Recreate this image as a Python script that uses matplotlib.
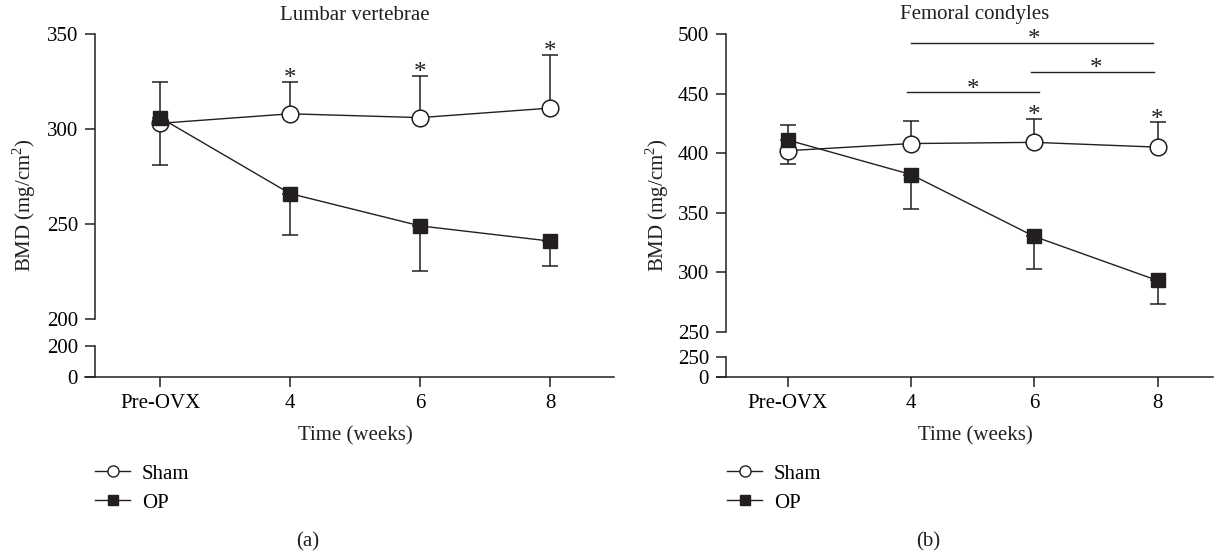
import matplotlib.pyplot as plt
from matplotlib.lines import Line2D
import numpy as np

plt.rcParams['font.family'] = ['Liberation Serif', 'DejaVu Serif']
plt.rcParams['font.size'] = 15
plt.rcParams['mathtext.fontset'] = 'custom'
plt.rcParams['mathtext.rm'] = 'Liberation Serif'

INK = '#231f20'
W, H = 1218, 554

# ---- data ----
weeks = ['Pre-OVX', '4', '6', '8']

lumbar_sham = [303, 308, 306, 311]
lumbar_sham_lo = [22, 0, 0, 0]
lumbar_sham_hi = [0, 17, 22, 28]
lumbar_op = [306, 266, 249, 241]
lumbar_op_lo = [0, 22, 24, 13]
lumbar_op_hi = [19, 0, 0, 0]
lumbar_star = [False, True, True, True]

femoral_sham = [402, 408, 409, 405]
femoral_sham_lo = [11, 0, 0, 0]
femoral_sham_hi = [0, 19, 20, 21]
femoral_op = [411, 382, 330, 293]
femoral_op_lo = [0, 29, 27, 20]
femoral_op_hi = [13, 0, 0, 0]
femoral_star = [False, False, True, True]
# OP group comparisons between weeks (index pairs)
femoral_pairs = [(1, 3), (2, 3), (1, 2)]

fig = plt.figure(figsize=(W / 100, H / 100), dpi=100)


def style_axis(ax, xlim):
    ax.set_xlim(*xlim)
    ax.spines['top'].set_visible(False)
    ax.spines['right'].set_visible(False)
    ax.spines['left'].set_position(('data', -0.5))
    for s in ax.spines.values():
        s.set_linewidth(1.1)
        s.set_color(INK)
    ax.tick_params(direction='out', length=7.2, width=1.1, color=INK, pad=5)
    ax.patch.set_visible(False)


def star(ax, x, y):
    ax.annotate('*', xy=(x, y), xytext=(0, -2.5), textcoords='offset points',
                ha='center', va='baseline', color=INK, fontsize=18)


def panel(left, right, top_px, brk_px, top_lim, top_ticks, bot_tick, xlim,
          sham, sham_lo, sham_hi, op, op_lo, op_hi, stars):
    x = np.arange(len(weeks))
    ax = fig.add_axes([left / W, 1 - brk_px[0] / H, (right - left) / W, (brk_px[0] - top_px) / H])
    axb = fig.add_axes([left / W, 1 - 377 / H, (right - left) / W, (377 - brk_px[1]) / H])
    style_axis(ax, xlim)
    style_axis(axb, xlim)
    ax.spines['bottom'].set_visible(False)
    ax.set_xticks([])
    ax.set_ylim(*top_lim)
    ax.set_yticks(top_ticks)
    axb.set_ylim(0, bot_tick)
    axb.set_yticks([0, bot_tick])
    axb.set_xticks(x)
    axb.set_xticklabels(weeks)

    ax.errorbar(x, sham, yerr=[sham_lo, sham_hi], fmt='none', ecolor=INK,
                elinewidth=1.1, capsize=6, capthick=1.1, zorder=2, clip_on=False)
    ax.errorbar(x, op, yerr=[op_lo, op_hi], fmt='none', ecolor=INK,
                elinewidth=1.1, capsize=6, capthick=1.1, zorder=2, clip_on=False)
    ax.plot(x, sham, '-', color=INK, lw=1.0, marker='o', ms=12, mfc='white',
            mec=INK, mew=1.1, zorder=3, clip_on=False)
    ax.plot(x, op, '-', color=INK, lw=1.0, marker='s', ms=10.5, mfc=INK,
            mec=INK, zorder=4, clip_on=False)
    for xi, s, v, e in zip(x, stars, sham, sham_hi):
        if s:
            star(ax, xi, v + e)
    return ax


ax_a = panel(85, 614, 34, (319, 346), (200, 350), [200, 250, 300, 350], 200,
             (-0.577, 3.49), lumbar_sham, lumbar_sham_lo, lumbar_sham_hi,
             lumbar_op, lumbar_op_lo, lumbar_op_hi, lumbar_star)
ax_b = panel(717, 1213, 34, (331.7, 356.7), (250, 500), [250, 300, 350, 400, 450, 500], 250,
             (-0.573, 3.45), femoral_sham, femoral_sham_lo, femoral_sham_hi,
             femoral_op, femoral_op_lo, femoral_op_hi, femoral_star)

# significance brackets in panel b
for (i, j), yb, dx in zip(femoral_pairs, [492.6, 468.5, 451], [(0, -0.04), (-0.03, -0.03), (-0.03, 0.04)]):
    ax_b.plot([i + dx[0], j + dx[1]], [yb, yb], color=INK, lw=1.0, clip_on=False)
    star(ax_b, (i + j) / 2, yb)

# titles, axis labels, legends, panel letters
ylab = r'BMD (mg/cm$^{2}$)'
for cx, lx, title, letter, legx in [(355, 24, 'Lumbar vertebrae', '(a)', 95),
                                    (975, 657, 'Femoral condyles', '(b)', 727)]:
    fig.text(cx / W, 1 - 15 / H, title, ha='center', va='center', color=INK)
    fig.text(cx / W, 1 - 436 / H, 'Time (weeks)', ha='center', va='center', color=INK)
    fig.text(lx / W, 1 - 205 / H, ylab, ha='center', va='center', rotation=90, color=INK)
    fig.text((cx - 47) / W, 1 - 542 / H, letter, ha='center', va='center', color=INK)
    handles = [Line2D([], [], color=INK, lw=1.0, marker='o', ms=8, mfc='white', mec=INK),
               Line2D([], [], color=INK, lw=1.0, marker='s', ms=7, mfc=INK, mec=INK)]
    fig.legend(handles, ['Sham', 'OP'], loc='upper left',
               bbox_to_anchor=(legx / W, 1 - 464 / H), frameon=False,
               borderpad=0, borderaxespad=0, handlelength=1.7,
               handletextpad=0.55, labelspacing=0.45)

fig.savefig('out.png', dpi=100)
